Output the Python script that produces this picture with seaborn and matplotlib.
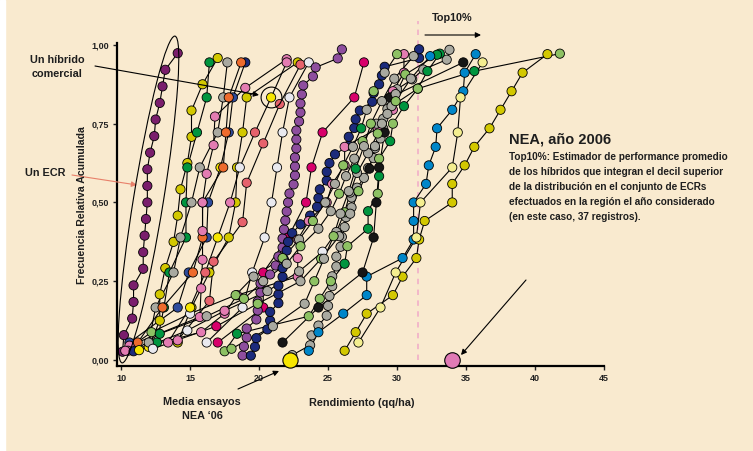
import numpy as np
import pandas as pd
import seaborn as sns
import matplotlib.pyplot as plt
from matplotlib.patches import Ellipse, Rectangle

""" data: one list of yields (qq/ha) per ECR, plus one colour code per hybrid """

ecr01_x = [10.1, 10.2, 10.8, 10.9, 10.9, 11.6, 11.6, 11.7, 11.8, 11.9, 11.9, 11.9, 12.1, 12.4, 12.5, 12.8, 13.0, 13.2, 14.1]
ecr01_c = "P" * 19
ecr02_x = [12.0, 12.8, 12.8, 13.2, 13.8, 14.1, 14.3, 14.8, 15.1, 15.1, 15.9, 17.0]
ecr02_c = "yYYYYYYYYYYY"
ecr03_x = [12.6, 13.1, 13.5, 14.7, 14.7, 14.8, 15.5, 16.2, 16.4]
ecr03_c = "G" * 9
ecr04_x = [12.0, 12.5, 13.8, 14.3, 15.1, 15.7, 17.0, 17.4, 17.7]
ecr04_c = "S" * 9
ecr05_x = [10.6, 14.1, 14.9, 16.2, 16.3, 17.2, 17.8, 18.1, 19.0]
ecr05_c = "BBBBByBBN"
ecr06_x = [11.2, 13.0, 15.2, 15.9, 15.9, 17.4, 17.6, 17.8, 18.7]
ecr06_c = "O" * 9
ecr07_x = [10.6, 15.7, 15.8, 15.9, 15.9, 15.9, 16.2, 16.7, 16.8, 19.0, 22.0]
ecr07_c = "K" * 11
ecr08_x = [14.1, 15.1, 16.4, 17.8, 18.3, 18.4, 18.8, 19.1, 22.8]
ecr08_c = "Y" * 9
ecr09_x = [14.1, 16.4, 16.7, 18.8, 19.1, 20.3, 21.5, 23.0]
ecr09_c = "KRRRRRRR"
ecr10_x = [16.2, 18.8, 19.5, 20.4, 20.9, 21.3, 21.7, 22.2, 23.6]
ecr10_c = "s" * 9
ecr11_x = [17.0, 20.3, 20.3, 22.1, 23.4, 23.8, 24.6, 26.9, 27.6]
ecr11_c = "M" * 9
ecr12_x = [18.8, 18.9, 19.1, 19.1, 19.8, 19.9, 19.9, 20.1, 20.1, 20.8,
           21.2, 21.4, 21.7, 21.7, 21.8, 21.9, 22.0, 22.1, 22.2, 22.5,
           22.6, 22.6, 22.6, 22.7, 22.7, 22.7, 22.9, 23.0, 23.0, 23.1,
           23.2, 23.9, 24.1, 25.7, 26.0]
ecr12_c = "V" * 35
ecr13_x = [19.4, 19.7, 19.8, 20.6, 20.8, 20.8, 21.4, 21.4, 21.4, 21.7,
           21.7, 21.8, 22.0, 22.1, 22.4, 23.0, 23.7, 24.2, 24.3, 24.4,
           24.9, 24.9, 25.1, 25.5, 26.5, 26.5, 26.9, 27.0, 27.3, 28.2,
           28.3, 28.7, 28.9, 29.1, 31.6, 31.6]
ecr13_c = "N" * 36
ecr14_x = [22.4, 23.7, 23.8, 24.3, 24.9, 25.0, 25.1, 25.3, 25.3, 25.6,
           25.6, 25.9, 26.0, 26.2, 26.3, 26.7, 26.7, 27.1, 27.6, 27.9,
           28.3, 28.4, 28.8, 29.0, 29.0, 29.3, 29.4, 30.0, 31.1, 31.9,
           33.6, 33.8]
ecr14_c = "S" * 32
ecr15_x = [10.5, 15.8, 17.5, 18.4, 22.8, 22.8, 22.8, 23.6, 24.9, 25.3, 26.2, 26.2, 28.6, 29.7, 29.7, 30.5, 30.5]
ecr15_c = "K" * 17
ecr16_x = [17.5, 18.4, 23.6, 24.4, 25.2, 26.2, 26.4, 27.9, 27.9, 28.6, 28.7, 28.7, 29.5, 29.7, 30.5, 31.5, 32.2, 33.1]
ecr16_c = "gGgggGgGGgGgGgGgGG"
ecr17_x = [23.6, 24.3, 26.1, 27.8, 27.8, 30.4, 31.2, 31.2, 31.2, 32.1, 32.3, 32.8, 32.9, 34.0, 34.8, 34.9, 35.7]
ecr17_c = "C" * 17
ecr18_x = [26.2, 27.0, 27.8, 29.7, 30.4, 31.4, 31.6, 32.0, 34.0, 34.0, 34.9, 35.6, 36.7, 37.5, 38.3, 39.1, 40.9]
ecr18_c = "Y" * 17
ecr19_x = [27.2, 28.8, 29.9, 31.4, 31.7, 34.0, 34.4, 34.6, 36.2]
ecr19_c = "w" * 9
ecr20_x = [21.7, 24.3, 27.5, 28.3, 28.5, 28.7, 29.1, 29.5, 34.8]
ecr20_c = "X" * 9
ecr21_x = [10.3, 12.2, 15.0, 18.3, 19.6, 21.7, 22.9, 23.9, 24.8, 25.5, 26.1, 26.8, 27.4, 27.8, 28.3, 29.1, 30.0]
ecr21_c = "KgsgSgSgSSgSGSgSg"
ecr22_x = [10.9, 12.8, 16.2, 18.9, 20.3, 22.0, 23.0, 24.3, 25.2, 25.8, 26.3, 26.9, 27.5, 28.5, 29.6, 31.5, 35.6, 41.8]
ecr22_c = "NGSgSSgSSgSSgSSgGg"
ecr23_x = [11.3, 14.8, 17.5, 20.6, 22.9, 24.6, 25.6, 26.2, 26.6, 27.1, 27.9, 28.6, 29.3, 29.9, 30.6, 32.9]
ecr23_c = "ysKSSsSgSSSgSSgG"
ecr24_x = [12.3, 16.9, 19.9, 23.0, 24.5, 25.8, 26.6, 27.2, 28.0, 28.4, 28.9, 29.9, 31.0, 32.4]
ecr24_c = "sMgSgSSgXSSgSC"
ecr25_x = [18.0, 21.0, 23.3, 24.0, 24.7, 25.4, 25.9, 26.5, 27.0, 27.6, 28.1, 28.9, 29.8, 31.2]
ecr25_c = "gSSgSgSSGSgSSS"
ecr26_x = [13.4, 15.0, 16.1, 17.0, 17.9, 18.6, 19.7, 20.87, 22.0]
ecr26_c = "KyRyKsRyK"

media_ensayos = 22.25   # Media ensayos NEA '06
top10 = 34.0            # Top10%
top10_limite = 31.5     # decil superior
hibrido_x = 20.87       # "Un hibrido comercial" (ecr26, point 8 of 9)

colores = {'P': '#7A1E6C', 'V': '#8E4E9E', 'Y': '#D3C800', 'y': '#F7E600',
           'w': '#F4EE90', 'G': '#00953F', 'g': '#8DC163', 'S': '#A9A9A0',
           's': '#E9E9EF', 'K': '#E37CB2', 'M': '#D8006B', 'O': '#EE6B2D',
           'R': '#E6626C', 'N': '#1C2B7C', 'B': '#2E4B9C', 'C': '#0086C9',
           'X': '#161616'}

ecrs = [(ecr01_x, ecr01_c), (ecr02_x, ecr02_c), (ecr03_x, ecr03_c), (ecr04_x, ecr04_c),
        (ecr05_x, ecr05_c), (ecr06_x, ecr06_c), (ecr07_x, ecr07_c), (ecr08_x, ecr08_c),
        (ecr09_x, ecr09_c), (ecr10_x, ecr10_c), (ecr11_x, ecr11_c), (ecr12_x, ecr12_c),
        (ecr13_x, ecr13_c), (ecr14_x, ecr14_c), (ecr15_x, ecr15_c), (ecr16_x, ecr16_c),
        (ecr17_x, ecr17_c), (ecr18_x, ecr18_c), (ecr19_x, ecr19_c), (ecr20_x, ecr20_c),
        (ecr21_x, ecr21_c), (ecr22_x, ecr22_c), (ecr23_x, ecr23_c), (ecr24_x, ecr24_c),
        (ecr25_x, ecr25_c), (ecr26_x, ecr26_c)]

# frecuencia relativa acumulada of each ECR: (rank - 0.5) / n
rows = []
for k, (xs, cs) in enumerate(ecrs):
	n = len(xs)
	for i, (x, c) in enumerate(zip(xs, cs)):
		rows.append({'ecr': k, 'x': x, 'y': (i + 0.5) / n, 'hib': c})
df = pd.DataFrame(rows)


""" figure """
BG = '#F9EACF'
W, H = 753, 451

sns.set_style('ticks')
plt.rcParams['font.family'] = ['Liberation Sans', 'DejaVu Sans']
plt.rcParams['font.weight'] = 'bold'

fig = plt.figure(figsize=(W / 100, H / 100), dpi=100, facecolor=BG)
fig.patches.append(Rectangle((0, 0), 5 / W, 1, transform=fig.transFigure, color='white', zorder=0))
ax = fig.add_axes([117 / W, 1 - 366 / H, (604 - 117) / W, (366 - 43) / H])
ax.set_facecolor(BG)

sns.lineplot(data=df, x='x', y='y', units='ecr', estimator=None, sort=False,
             color='black', lw=0.8, ax=ax, zorder=2)
sns.scatterplot(data=df, x='x', y='y', hue='hib', palette=colores, s=44,
                edgecolor='black', linewidth=0.6, legend=False, ax=ax, zorder=3)

# circled hybrid
ax.plot(hibrido_x, 7.5 / 9, marker='o', ms=15, mfc='none', mec='black', mew=0.8, zorder=4)

# Top10% threshold
ax.plot([top10_limite, top10_limite], [0, 1.077], ls=(0, (3, 3)), color='#F2B3C9',
        lw=1.3, clip_on=False, zorder=1)

# mean and top10 markers on the axis
ax.scatter([media_ensayos], [0], s=120, color=colores['y'], edgecolor='black',
           linewidth=0.8, clip_on=False, zorder=6)
ax.scatter([top10], [0], s=125, color='#E07AB5', edgecolor='black',
           linewidth=0.8, clip_on=False, zorder=6)

ax.set_xlim(9.7, 45)
ax.set_ylim(-0.019, 1.006)
ax.set_xticks([10, 15, 20, 25, 30, 35, 40, 45])
ax.set_xticklabels(['10', '15', '20', '25', '30', '35', '40', '45'])
ax.set_yticks([0, 0.25, 0.5, 0.75, 1.0])
ax.set_yticklabels(['0,00', '0,25', '0,50', '0,75', '1,00'])
ax.tick_params(direction='out', length=3, width=1, labelsize=6.5, pad=2.5, colors='#222222')
for s in ['top', 'right']:
	ax.spines[s].set_visible(False)
for s in ['left', 'bottom']:
	ax.spines[s].set_linewidth(1.6)
	ax.spines[s].set_color('black')
ax.set_xlabel('')
ax.set_ylabel('')

# ellipse around one ECR
fig.add_artist(Ellipse((1.485, (H - 199.5) / 100), width=3.31, height=0.30, angle=80.8,
                       transform=fig.dpi_scale_trans, fill=False, lw=0.8, ec='black'))


def fp(x, y):
	return (x, H - y)


def arrow(x0, y0, x1, y1, color='black'):
	ax.annotate('', xy=fp(x1, y1), xycoords='figure pixels', xytext=fp(x0, y0),
	            textcoords='figure pixels', annotation_clip=False,
	            arrowprops=dict(arrowstyle='-|>', color=color, lw=0.8, mutation_scale=8,
	                            shrinkA=0, shrinkB=0))


arrow(95, 66, 259, 95)
arrow(72, 175, 137, 185, color='#E8806A')
arrow(238, 389, 279, 371)
arrow(526, 280, 461, 355)
arrow(425, 35, 481, 35)

TXT = '#1E1E1E'
fig.text(57 / W, 1 - 67 / H, 'Un híbrido\ncomercial', ha='center', va='center',
         fontsize=7.8, color=TXT, linespacing=1.5)
fig.text(45 / W, 1 - 173 / H, 'Un ECR', ha='center', va='center', fontsize=7.8, color=TXT)
fig.text(202 / W, 1 - 409 / H, "Media ensayos\nNEA \u201806", ha='center', va='center',
         fontsize=7.8, color=TXT, linespacing=1.55)
fig.text(362 / W, 1 - 403 / H, 'Rendimiento (qq/ha)', ha='center', va='center',
         fontsize=7.8, color=TXT)
fig.text(82 / W, 1 - 205 / H, 'Frecuencia Relativa Acumulada', ha='center', va='center',
         rotation=90, fontsize=7.6, color=TXT)
fig.text(452 / W, 1 - 18 / H, 'Top10%', ha='center', va='center', fontsize=7.8, color=TXT)
fig.text(509 / W, 1 - 139 / H, 'NEA, año 2006', ha='left', va='center', fontsize=10.5, color=TXT)
fig.text(509 / W, 1 - 152 / H,
         'Top10%: Estimador de performance promedio\n'
         'de los híbridos que integran el decil superior\n'
         'de la distribución en el conjunto de ECRs\n'
         'efectuados en la región el año considerado\n'
         '(en este caso, 37 registros).',
         ha='left', va='top', fontsize=7.2, color=TXT, linespacing=1.62)

plt.savefig('out.png', dpi=100, facecolor=BG)
